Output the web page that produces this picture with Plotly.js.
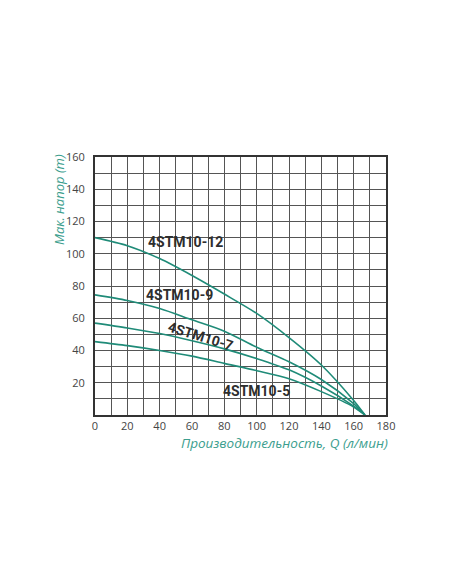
<!DOCTYPE html>
<html>
<head>
<meta charset="utf-8">
<script src="https://cdn.plot.ly/plotly-3.0.1.min.js"></script>
<style>
  html, body { margin: 0; padding: 0; background: #fff; }
  #chart { width: 452px; height: 584px; }
</style>
</head>
<body>
<div id="chart"></div>
<script>
// flow Q (l/min) and head H (m)
var flow = [0, 20, 40, 60, 80, 100, 120, 140, 160, 167]
var head12 = [110, 105, 97, 86.5, 75, 63, 48, 31, 9, 0]
var head9 = [74.5, 71, 66, 59, 52, 42, 33, 22, 7, 0]
var head7 = [57, 54, 50.5, 46, 41, 35, 28, 18, 5.5, 0]
var head5 = [45.5, 43, 40, 36.5, 32, 27.5, 22.5, 14.5, 5, 0]

var models = ['4STM10-12', '4STM10-9', '4STM10-7', '4STM10-5']
var labelQ = [56, 52, 65, 100]
var labelH = [107, 74.5, 49, 15]
var labelAngle = [0, 0, 17, 0]

var xTicks = [0, 20, 40, 60, 80, 100, 120, 140, 160, 180]
var yTicks = [20, 40, 60, 80, 100, 120, 140, 160]

var lineColor = '#1f8b78'
var titleColor = '#3c9e8e'

var heads = [head12, head9, head7, head5]
var data = []
for (var i = 0; i < heads.length; i++) {
    data.push({
        x: flow,
        y: heads[i],
        mode: 'lines',
        line: { color: lineColor, width: 1.6, shape: 'spline', smoothing: 0.8 },
        hoverinfo: 'skip'
    })
}

var annotations = []
for (var i = 0; i < models.length; i++) {
    annotations.push({
        x: labelQ[i], y: labelH[i], xref: 'x', yref: 'y',
        text: '<b>' + models[i] + '</b>',
        showarrow: false,
        textangle: labelAngle[i],
        font: { family: 'Roboto', size: 14, color: '#2e2e2e' }
    })
}
// axis titles, placed in page pixels and turned into paper fractions
var plotL = 95, plotR = 386, plotT = 157, plotB = 415
annotations.push({
    x: (59 - plotL) / (plotR - plotL), y: (plotB - 200) / (plotB - plotT),
    xref: 'paper', yref: 'paper', xanchor: 'center', yanchor: 'middle',
    text: '<i>Мак. напор (m)</i>',
    showarrow: false, textangle: -90,
    font: { family: 'Open Sans', size: 13, color: titleColor }
})
annotations.push({
    x: (284 - plotL) / (plotR - plotL), y: (plotB - 443) / (plotB - plotT),
    xref: 'paper', yref: 'paper', xanchor: 'center', yanchor: 'middle',
    text: '<i>Производительность, Q (л/мин)</i>',
    showarrow: false,
    font: { family: 'Open Sans', size: 13.5, color: titleColor }
})

var layout = {
    width: 452,
    height: 584,
    margin: { l: plotL, r: 452 - plotR, t: plotT, b: 584 - plotB, pad: 0 },
    paper_bgcolor: '#fff',
    plot_bgcolor: '#fff',
    showlegend: false,
    font: { family: 'Open Sans', size: 11, color: '#444' },
    xaxis: {
        range: [0, 180],
        tickvals: xTicks,
        ticks: '',
        ticklabelstandoff: 0,
        showgrid: true,
        gridcolor: '#555',
        gridwidth: 1,
        minor: { dtick: 10, showgrid: true, gridcolor: '#555', gridwidth: 1 },
        showline: true, linecolor: '#333', linewidth: 2, mirror: true,
        zeroline: false,
        fixedrange: true
    },
    yaxis: {
        range: [0, 160],
        tickvals: yTicks,
        ticks: '',
        ticklabelstandoff: 6,
        showgrid: true,
        gridcolor: '#555',
        gridwidth: 1,
        minor: { dtick: 10, showgrid: true, gridcolor: '#555', gridwidth: 1 },
        showline: true, linecolor: '#333', linewidth: 2, mirror: true,
        zeroline: false,
        fixedrange: true
    },
    annotations: annotations
}

Plotly.newPlot('chart', data, layout, { displayModeBar: false, staticPlot: true })
</script>
</body>
</html>
